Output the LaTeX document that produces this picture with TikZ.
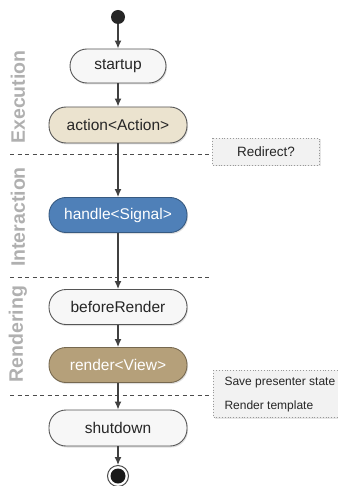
\documentclass[tikz,border=0pt]{standalone}
\usepackage{fontspec}
\setmainfont{Liberation Sans}
\usetikzlibrary{arrows.meta,shadows}
\definecolor{edge}{HTML}{555555}
\definecolor{beige}{HTML}{EBE3CF}
\definecolor{bluefill}{HTML}{4F80B8}
\definecolor{tanfill}{HTML}{B5A07A}
\definecolor{lanegray}{HTML}{B0B0B0}
\tikzset{
  stage/.style={draw=edge, line width=0.9pt, rounded corners=17pt, minimum width=138pt, minimum height=35pt,
    inner sep=0pt, font=\fontsize{15.5}{17}\selectfont, text=black!85,
    drop shadow={shadow xshift=1pt, shadow yshift=-1.5pt, opacity=0.25}},
  flow/.style={draw=black!75, line width=1.3pt, -{Latex[length=8pt,width=7pt]}},
  sep/.style={draw=black!70, line width=1pt, dash pattern=on 4pt off 3.5pt},
  note/.style={draw=black!40, dotted, line width=0.8pt, fill=black!5,
    drop shadow={shadow xshift=1.5pt, shadow yshift=-1.5pt, opacity=0.2}},
  lane/.style={rotate=90, font=\bfseries\fontsize{19.5}{20}\selectfont, text=lanegray}
}
\begin{document}
\begin{tikzpicture}[x=1pt,y=-1pt]
\useasboundingbox (0,0) rectangle (337,486);
% separators
\draw[sep] (10,155) -- (212,155);
\draw[sep] (10,277) -- (212,277);
\draw[sep] (10,395) -- (213,395);
% lane labels
\node[lane] (lexec) at (18,97) {Execution};
\node[lane] (linter) at (18,217) {Interaction};
\node[lane] (lrend) at (18,334) {Rendering};
% nodes
\node[circle, fill=black!85, minimum size=14pt, inner sep=0pt] (start) at (118,17) {};
\node[stage, fill=black!3, minimum width=96pt, minimum height=34pt] (startup) at (118,66) {startup};
\node[stage, fill=beige, minimum height=36pt] (action) at (118,125) {action<Action>};
\node[stage, fill=bluefill, draw=bluefill!70!black, text=white] (handle) at (118,215) {handle<Signal>};
\node[stage, fill=black!3] (before) at (118,307) {beforeRender};
\node[stage, fill=tanfill, draw=tanfill!65!black, text=white] (render) at (118,365) {render<View>};
\node[stage, fill=black!3, minimum height=36pt] (shutdown) at (118,428) {shutdown};
\node[circle, draw=black!70, line width=1pt, fill=white, minimum size=21pt, inner sep=0pt] (endo) at (118,476) {};
\node[circle, fill=black!90, minimum size=15pt, inner sep=0pt] (endi) at (118,476) {};
% notes
\draw[note] (212,138) rectangle (319,165);
\node[font=\fontsize{13.5}{15}\selectfont, text=black!85] (redir) at (266,152) {Redirect?};
\draw[note] (213,370) rectangle (350,417);
\node[font=\fontsize{12}{14}\selectfont, text=black!85, anchor=west] (save) at (221,383) {Save presenter state};
\node[font=\fontsize{12}{14}\selectfont, text=black!85, anchor=west] (rtpl) at (221,406) {Render template};
% flow
\draw[flow] (start) -- (startup);
\draw[flow] (startup) -- (action);
\draw[flow] (action) -- (handle);
\draw[flow] (handle) -- (before);
\draw[flow] (before) -- (render);
\draw[flow] (render) -- (shutdown);
\draw[flow] (shutdown) -- (endo);
\end{tikzpicture}
\end{document}
